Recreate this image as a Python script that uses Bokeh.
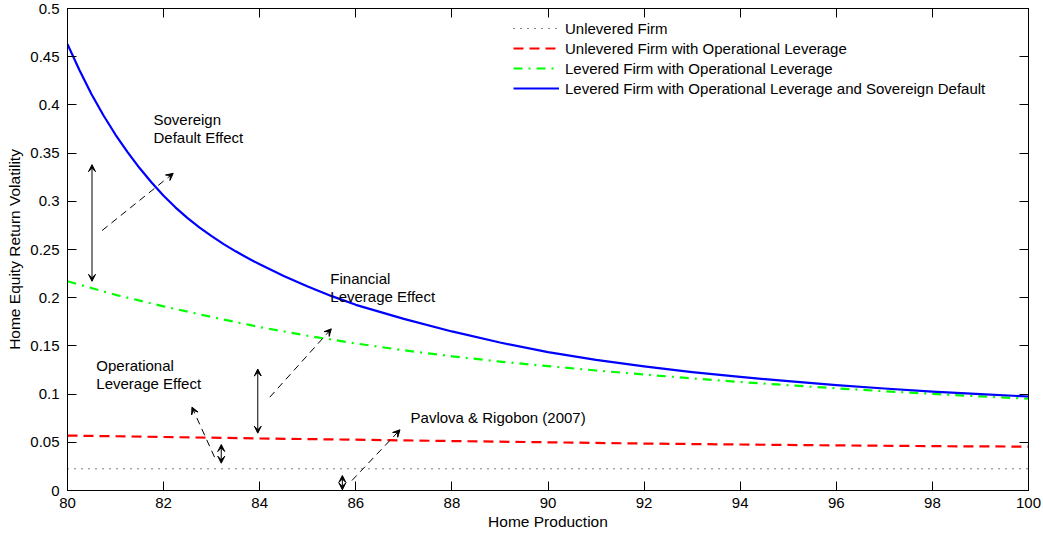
from bokeh.plotting import figure
from bokeh.models import (Range1d, LinearAxis, FixedTicker, CustomJSTickFormatter,
                          Arrow, VeeHead, Legend, LegendItem, ColumnDataSource)
from bokeh.core.properties import value
from bokeh.embed import file_html
from bokeh.resources import INLINE

FONT = "Liberation Sans"

# ---------------- data ----------------
x_ticks = [80, 82, 84, 86, 88, 90, 92, 94, 96, 98, 100]
y_ticks = [0, 0.05, 0.1, 0.15, 0.2, 0.25, 0.3, 0.35, 0.4, 0.45, 0.5]

x_flat = [80, 82, 84, 86, 88, 90, 92, 94, 96, 98, 100]
unlevered = [0.0225, 0.0225, 0.0225, 0.0225, 0.0225, 0.0225, 0.0225, 0.0225, 0.0225, 0.0225, 0.0225]
unlevered_oper = [0.057, 0.0555, 0.054, 0.0527, 0.0513, 0.050, 0.0487, 0.0477, 0.0468, 0.046, 0.0455]

x_green = [80, 81, 82, 83, 84, 85, 86, 87, 88, 89, 90, 91, 92, 93, 94, 95, 96, 97, 98, 99, 100]
levered_oper = [0.217, 0.203, 0.191, 0.180, 0.1695, 0.1605, 0.1525, 0.1455, 0.1392, 0.1337,
                0.1290, 0.1245, 0.1203, 0.1163, 0.1126, 0.1092, 0.1060, 0.1030, 0.1002,
                0.0976, 0.0952]

x_blue = [80, 80.25, 80.5, 80.75, 81, 81.25, 81.5, 81.75, 82, 82.25, 82.5, 82.75, 83,
          83.25, 83.5, 83.75, 84, 84.5, 85, 85.5, 86, 87, 88, 89, 90, 91, 92, 93, 94,
          95, 96, 97, 98, 99, 100]
levered_sov = [0.463, 0.436, 0.411, 0.389, 0.369, 0.351, 0.3345, 0.3195, 0.3058, 0.2935,
               0.2825, 0.2727, 0.2638, 0.2556, 0.2481, 0.2411, 0.2346, 0.2226, 0.2116,
               0.2016, 0.1926, 0.178, 0.165, 0.1535, 0.1435, 0.1355, 0.1287, 0.1228,
               0.1178, 0.1134, 0.1094, 0.1058, 0.1026, 0.0999, 0.0975]

series_labels = ["Unlevered Firm",
                 "Unlevered Firm with Operational Leverage",
                 "Levered Firm with Operational Leverage",
                 "Levered Firm with Operational Leverage and Sovereign Default"]

# annotation texts (one entry per line)
note_x = [81.79, 81.79, 85.47, 85.47, 80.60, 80.60, 87.14]
note_y = [0.3845, 0.3665, 0.2199, 0.2012, 0.1297, 0.1113, 0.0754]
note_text = ["Sovereign", "Default Effect", "Financial", "Leverage Effect",
             "Operational", "Leverage Effect", "Pavlova & Rigobon (2007)"]

# double-headed solid arrows
dbl_x0 = [80.51, 83.96, 83.20, 85.72]
dbl_y0 = [0.217, 0.0595, 0.0283, 0.0007]
dbl_x1 = [80.51, 83.96, 83.20, 85.72]
dbl_y1 = [0.338, 0.126, 0.0477, 0.0156]

# single-headed dashed arrows
dsh_x0 = [80.72, 84.21, 83.06, 85.92]
dsh_y0 = [0.2697, 0.0968, 0.0346, 0.0104]
dsh_x1 = [82.20, 85.49, 82.59, 86.92]
dsh_y1 = [0.329, 0.1677, 0.0865, 0.063]

# ---------------- figure ----------------
p = figure(width=1043, height=535, x_range=Range1d(80, 100), y_range=Range1d(0, 0.5),
           output_backend="svg", toolbar_location=None,
           min_border_left=67, min_border_right=15, min_border_top=8, min_border_bottom=45,
           margin=(0, 0, 0, 0))
p.grid.visible = False
p.outline_line_color = "black"
p.outline_line_width = 1

fmt = CustomJSTickFormatter(code="return tick.toString();")
blank = CustomJSTickFormatter(code="return '';")

for ax in (p.xaxis[0], p.yaxis[0]):
    ax.major_tick_in = 9
    ax.major_tick_out = 0
    ax.minor_tick_line_color = None
    ax.axis_line_color = "black"
    ax.major_tick_line_color = "black"
    ax.major_label_text_font = FONT
    ax.major_label_text_font_size = "15px"
    ax.major_label_text_color = "black"
    ax.axis_label_text_font = FONT
    ax.axis_label_text_font_size = "15.5px"
    ax.axis_label_text_font_style = "normal"
    ax.axis_label_text_color = "black"
    ax.formatter = fmt

p.xaxis[0].ticker = FixedTicker(ticks=x_ticks)
p.yaxis[0].ticker = FixedTicker(ticks=y_ticks)
p.xaxis[0].axis_label = "Home Production"
p.yaxis[0].axis_label = "Home Equity Return Volatility"
p.xaxis[0].major_label_standoff = 7
p.xaxis[0].axis_label_standoff = 2
p.yaxis[0].major_label_standoff = 8
p.yaxis[0].axis_label_standoff = 4

for ticks, side in ((y_ticks, "right"), (x_ticks, "above")):
    ax = LinearAxis(ticker=FixedTicker(ticks=ticks), formatter=blank,
                    major_tick_in=9, major_tick_out=0, minor_tick_line_color=None,
                    major_label_standoff=0, major_label_text_font_size="1px",
                    axis_line_color="black", major_tick_line_color="black")
    p.add_layout(ax, side)

r0 = p.line(x_flat, unlevered, line_color="black", line_width=1, line_dash="1 6")
r1 = p.line(x_flat, unlevered_oper, line_color="#ff0000", line_width=2.2, line_dash="10 6")
r2 = p.line(x_green, levered_oper, line_color="#00ff00", line_width=2.2, line_dash="9 6 2 6",
            line_join="round")
r3 = p.line(x_blue, levered_sov, line_color="#0000ff", line_width=2.2, line_join="round")

legend = Legend(items=[LegendItem(label=series_labels[i], renderers=[r])
                       for i, r in enumerate([r0, r1, r2, r3])],
                location=(446, 392), padding=0, margin=0, spacing=0,
                glyph_width=46, glyph_height=20, label_height=20, label_standoff=6,
                border_line_color=None, background_fill_alpha=0,
                label_text_font=FONT, label_text_font_size="15px", label_text_color="black")
p.add_layout(legend)

p.text(x=note_x, y=note_y, text=note_text, text_font=value(FONT), text_font_size="15px",
       text_color="black", text_baseline="middle", text_align="left")

dbl_src = ColumnDataSource(dict(x0=dbl_x0, y0=dbl_y0, x1=dbl_x1, y1=dbl_y1))
p.add_layout(Arrow(source=dbl_src, x_start="x0", y_start="y0", x_end="x1", y_end="y1",
                   line_color="black", line_width=1,
                   start=VeeHead(size=7, fill_color="black", line_color="black", line_width=1),
                   end=VeeHead(size=7, fill_color="black", line_color="black", line_width=1)))

dsh_src = ColumnDataSource(dict(x0=dsh_x0, y0=dsh_y0, x1=dsh_x1, y1=dsh_y1))
p.add_layout(Arrow(source=dsh_src, x_start="x0", y_start="y0", x_end="x1", y_end="y1",
                   line_color="black", line_width=1, line_dash="7 5",
                   end=VeeHead(size=7, fill_color="black", line_color="black", line_width=1)))

open("out.html", "w").write(file_html(p, INLINE))
